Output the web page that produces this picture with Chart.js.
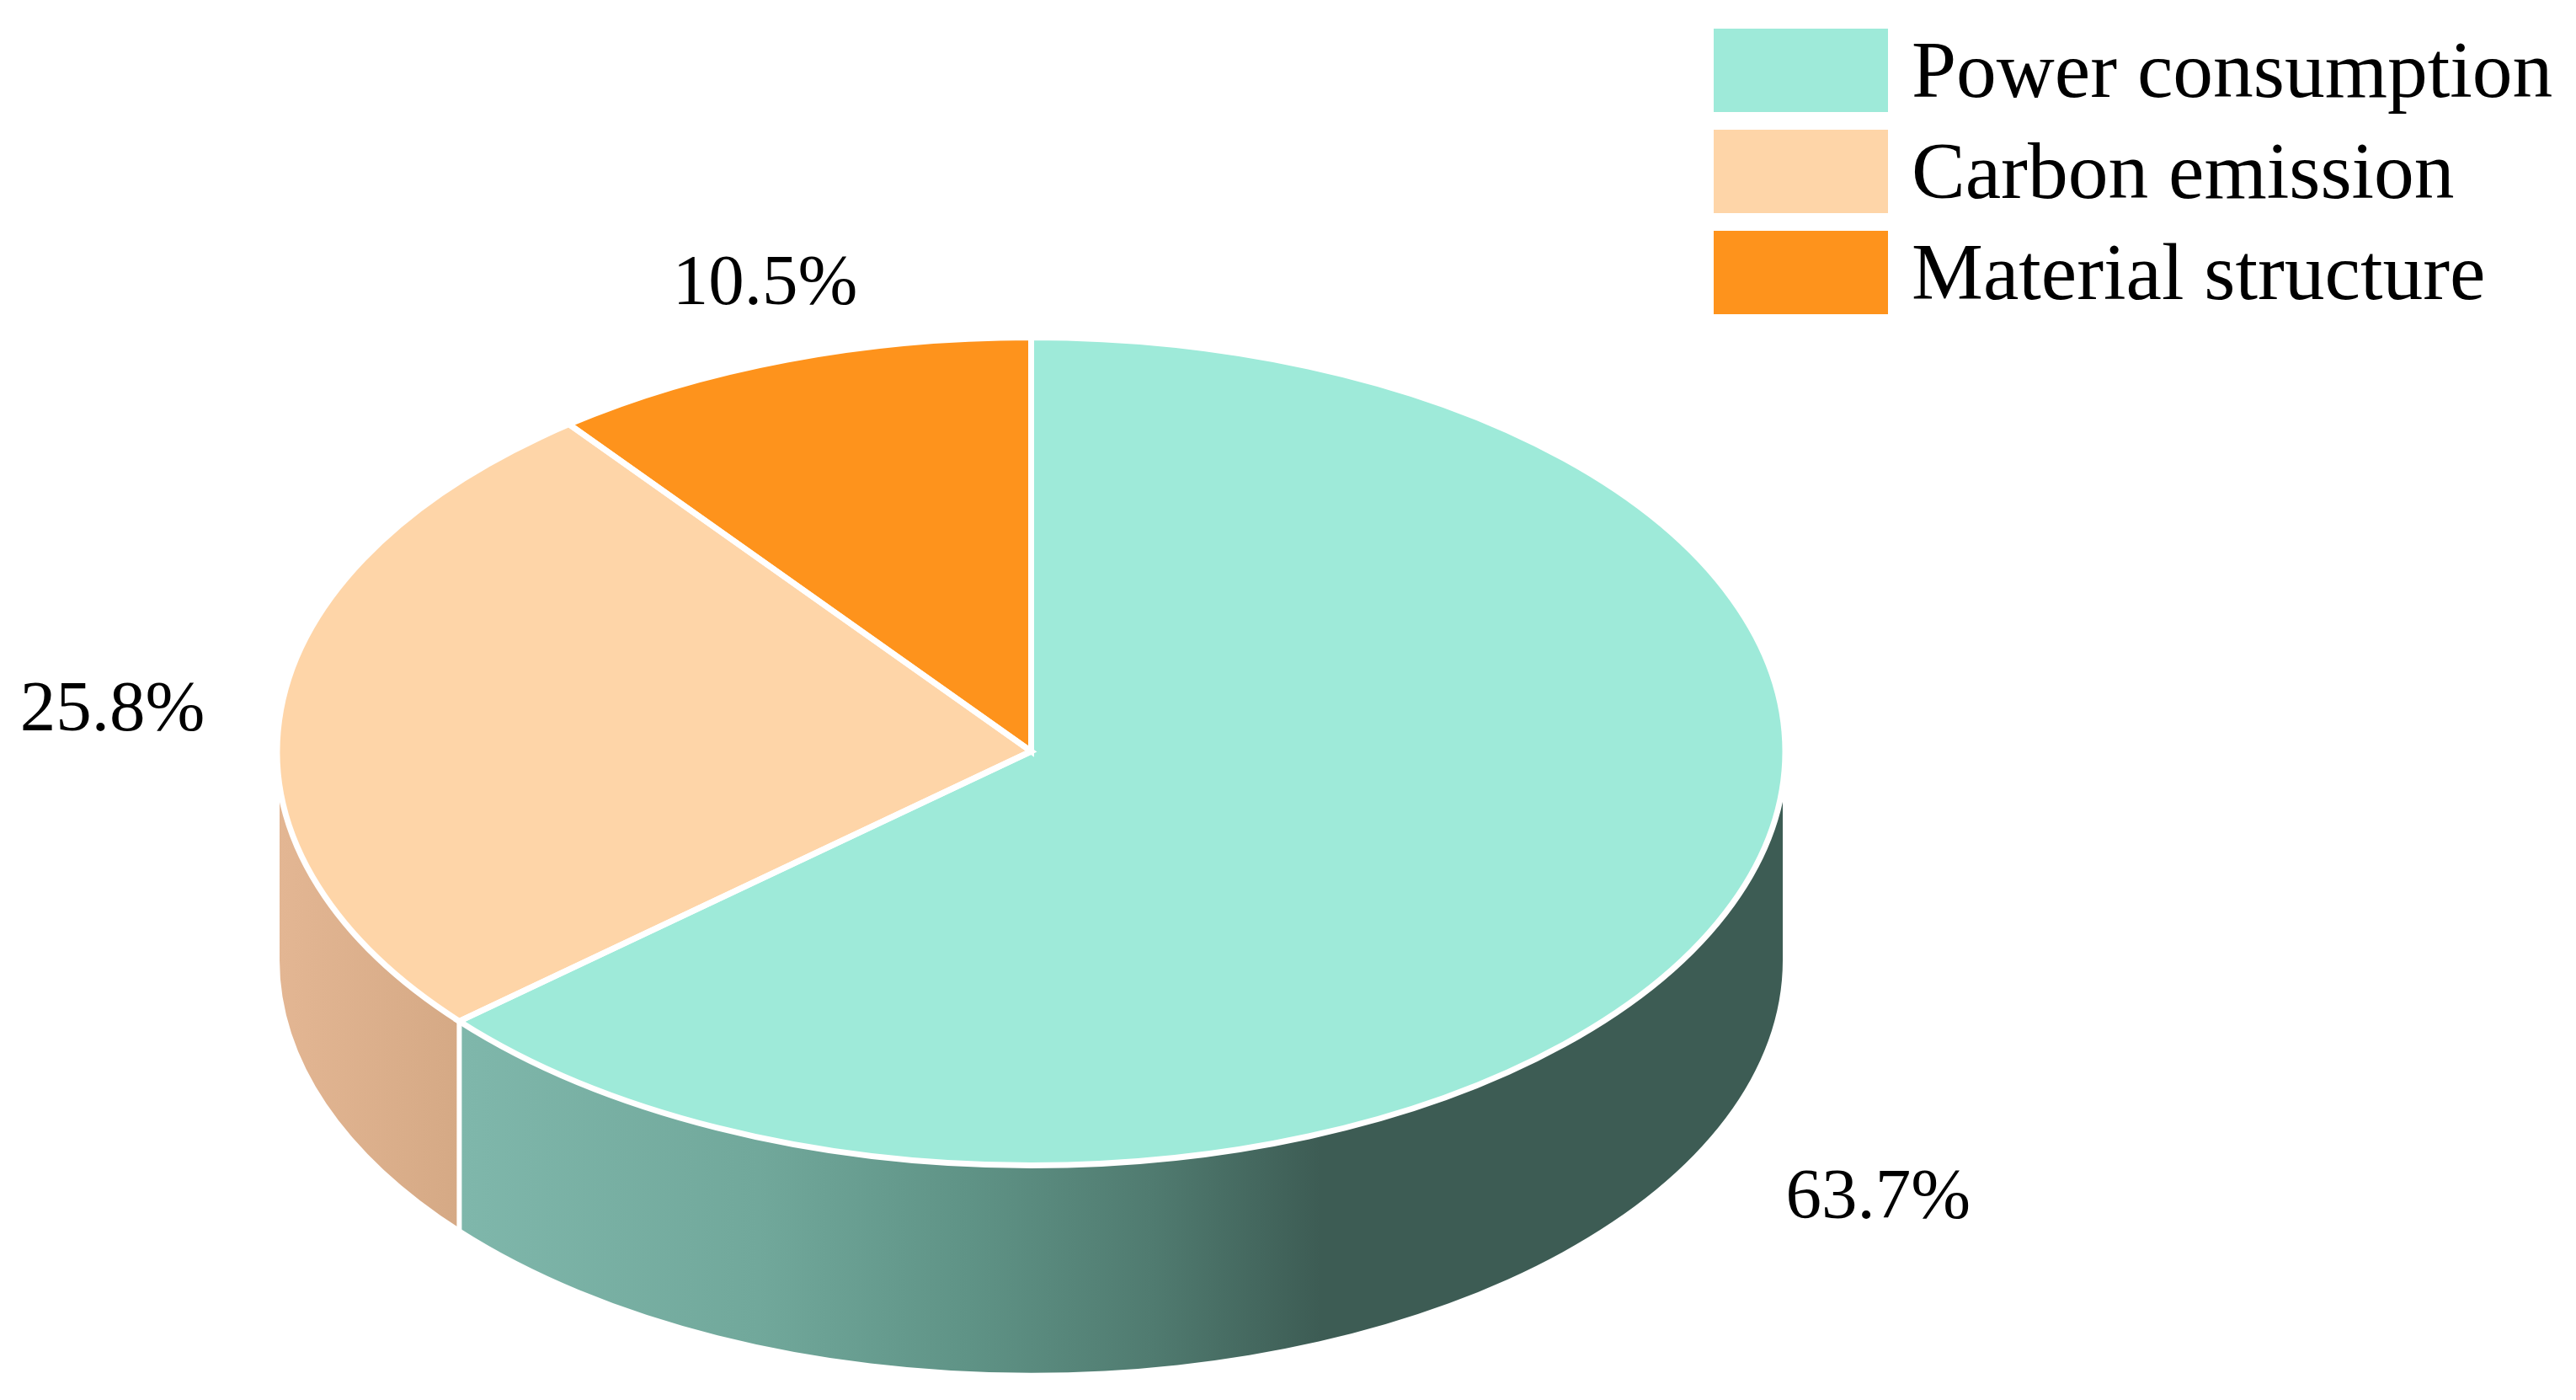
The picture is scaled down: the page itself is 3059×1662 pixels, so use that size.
<!DOCTYPE html>
<html>
<head>
<meta charset="utf-8">
<title>Pie</title>
<script src="https://cdn.jsdelivr.net/npm/chart.js@4/dist/chart.umd.min.js"></script>
<style>
  html, body { margin: 0; padding: 0; background: #fff; }
  #wrap { position: relative; width: 3059px; height: 1662px; }
</style>
</head>
<body>
<div id="wrap"><canvas id="pie"></canvas></div>
<script>
// data
const categories = ["Power consumption", "Carbon emission", "Material structure"];
const shares = [63.7, 25.8, 10.5];
const shareLabels = ["63.7%", "25.8%", "10.5%"];

// colours
const faceColors = ["#9eead9", "#fed5a8", "#fe931c"];
const teal_wall = [[547, "#7fb7ab"], [900, "#71a89b"], [1150, "#5f9386"], [1368, "#507b70"], [1568, "#3d5c54"]];
const peach_wall = [[331, "#e3b693"], [547, "#d5a985"]];

// layout
const tilt = 491.5 / 895.5; // squash of the circle into the ellipse
const depth = 248;
const borderW = 7;
const labelNudge = [[192, 349], [-200, 24], [-26, -66]];

const wallFill = (ctx, stops) => {
  const first = stops[0][0];
  const last = stops[stops.length - 1][0];
  const g = ctx.createLinearGradient(first, 0, last, 0);
  stops.forEach(([x, c]) => g.addColorStop((x - first) / (last - first), c));
  return g;
};

const pie3d = {
  id: "pie3d",
  beforeDatasetsDraw(chart) {
    const ctx = chart.ctx;
    const arcs = chart.getDatasetMeta(0).data;
    const walls = [wallFill(ctx, teal_wall), wallFill(ctx, peach_wall)];
    // side walls only exist on the front half of the disc
    arcs.forEach((arc, i) => {
      const a0 = Math.max(arc.startAngle, 0);
      const a1 = Math.min(arc.endAngle, Math.PI);
      if (a1 <= a0 || !walls[i]) return;
      const r = arc.outerRadius - 3;
      ctx.beginPath();
      ctx.ellipse(arc.x, arc.y + depth, r, r * tilt, 0, a0, a1);
      ctx.ellipse(arc.x, arc.y, r, r * tilt, 0, a1, a0, true);
      ctx.closePath();
      ctx.fillStyle = walls[i];
      ctx.fill();
    });
    // squash the library's own arcs
    const cy = arcs[0].y;
    ctx.save();
    ctx.translate(0, cy);
    ctx.scale(1, tilt);
    ctx.translate(0, -cy);
  },
  afterDatasetsDraw(chart) {
    const ctx = chart.ctx;
    ctx.restore();
    const arcs = chart.getDatasetMeta(0).data;

    // white outlines, pen not squashed
    ctx.strokeStyle = "#fff";
    ctx.lineWidth = borderW;
    ctx.lineJoin = "miter";
    arcs.forEach((arc) => {
      const ry = arc.outerRadius * tilt;
      ctx.beginPath();
      ctx.moveTo(arc.x, arc.y);
      ctx.ellipse(arc.x, arc.y, arc.outerRadius, ry, 0, arc.startAngle, arc.endAngle);
      ctx.closePath();
      ctx.stroke();
    });
    // edge between the two walls
    const split = arcs[0];
    const sx = split.x + split.outerRadius * Math.cos(split.endAngle);
    const sy = split.y + split.outerRadius * tilt * Math.sin(split.endAngle);
    ctx.lineWidth = 6;
    ctx.beginPath();
    ctx.moveTo(sx, sy);
    ctx.lineTo(sx, sy + depth + 2);
    ctx.stroke();

    // share labels
    ctx.fillStyle = "#000";
    ctx.font = '85px "Liberation Serif"';
    ctx.textAlign = "center";
    ctx.textBaseline = "alphabetic";
    arcs.forEach((arc, i) => {
      const mid = (arc.startAngle + arc.endAngle) / 2;
      const px = arc.x + arc.outerRadius * Math.cos(mid);
      const py = arc.y + arc.outerRadius * tilt * Math.sin(mid);
      ctx.fillText(shareLabels[i], px + labelNudge[i][0], py + labelNudge[i][1]);
    });

    // legend
    ctx.font = '95.5px "Liberation Serif"';
    ctx.textAlign = "left";
    categories.forEach((name, i) => {
      ctx.fillStyle = faceColors[i];
      ctx.fillRect(2035, 34 + i * 120, 207, 99);
      ctx.fillStyle = "#000";
      ctx.fillText(name, 2270, 115 + i * 120);
    });
  },
};

new Chart(document.getElementById("pie"), {
  type: "pie",
  data: {
    labels: categories,
    datasets: [
      {
        data: shares,
        backgroundColor: faceColors,
        borderWidth: 0,
        radius: 895.5,
        clip: false,
      },
    ],
  },
  options: {
    responsive: true,
    maintainAspectRatio: false,
    animation: false,
    layout: { padding: { top: 122, right: 610 } },
    plugins: {
      legend: { display: false },
      tooltip: { enabled: false },
    },
  },
  plugins: [pie3d],
});
</script>
</body>
</html>
